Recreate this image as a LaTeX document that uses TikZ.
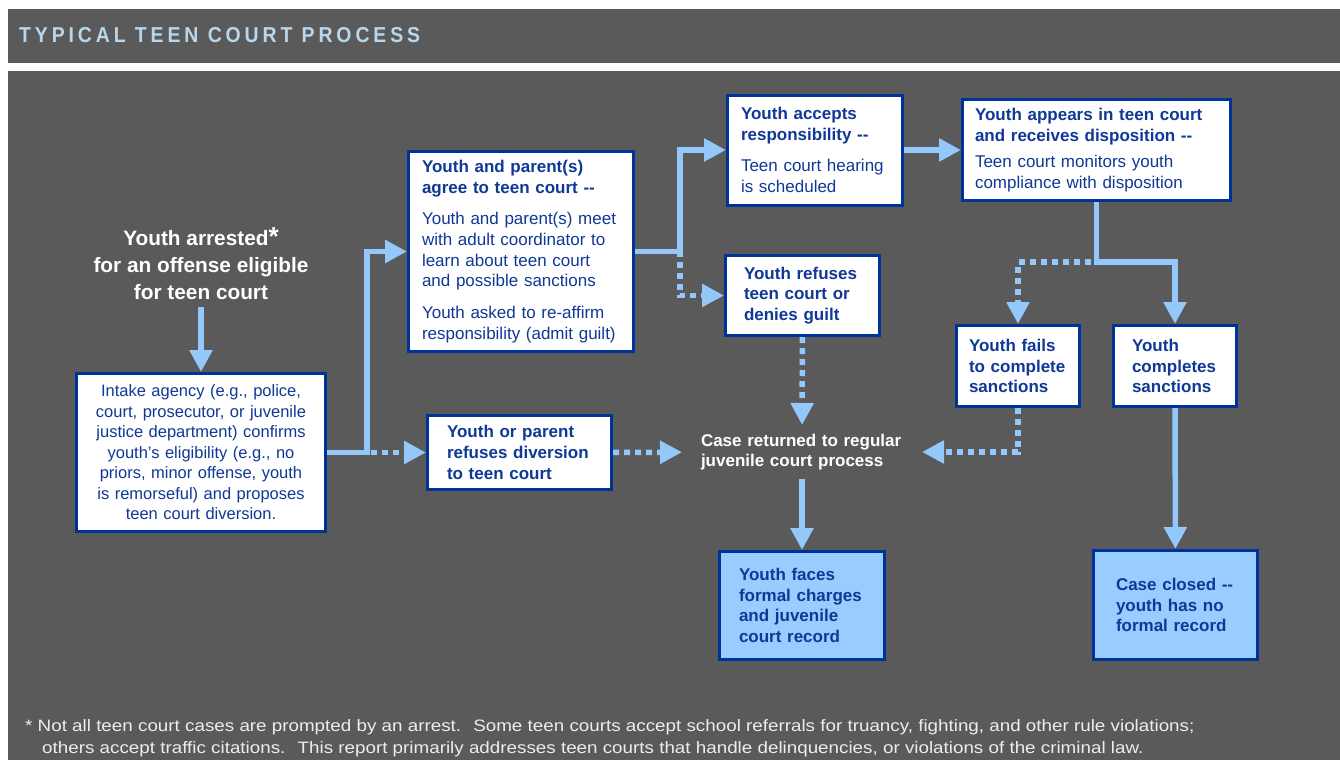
\documentclass[tikz,border=0pt]{standalone}
\usepackage{fontspec}
\setmainfont{Liberation Sans}
\newfontfamily\titlefont[FakeStretch=0.9,LetterSpace=18]{Liberation Sans}
\newfontfamily\footfont[FakeStretch=1.14]{Liberation Sans}
\usetikzlibrary{arrows.meta,positioning}
\definecolor{bggray}{RGB}{90,90,90}
\definecolor{boxblue}{RGB}{0,51,153}
\definecolor{textblue}{RGB}{16,56,150}
\definecolor{arrowblue}{RGB}{148,200,250}
\definecolor{endblue}{RGB}{153,204,255}
\definecolor{titleblue}{RGB}{184,214,236}
\definecolor{footgray}{RGB}{237,237,237}
\begin{document}
\begin{tikzpicture}[x=1pt,y=-1pt,
  flow/.style={draw=arrowblue,line width=5.5pt,-{Triangle[width=22pt,length=22pt]}},
  dotflow/.style={flow,dash pattern=on 6pt off 5pt},
  procbox/.style={draw=boxblue,line width=3pt,fill=white,text=textblue,align=left,inner ysep=0pt,font=\fontsize{17}{20.7}\selectfont},
  endbox/.style={procbox,fill=endblue,font=\fontsize{17}{20.7}\selectfont\bfseries},
  plain text/.style={text=white,inner sep=0pt,outer sep=0pt}]
% background
\fill[white] (0,0) rectangle (1340,760);
\useasboundingbox (0,0) rectangle (1340,760);
\fill[bggray] (8,9) rectangle (1340,63);
\fill[bggray] (8,71) rectangle (1340,760);
\node[anchor=west,inner sep=0pt,text=titleblue,font=\titlefont\bfseries\fontsize{21.6}{26}\selectfont] (title) at (19,35.5) {TYPICAL TEEN COURT PROCESS};
\begin{scope}
\node[plain text,align=center,minimum height=87,font=\fontsize{20.8}{26.7}\selectfont\bfseries] (arrested) at (201,263.5) {Youth arrested{\fontsize{26}{26}\selectfont*}\\for an offense eligible\\for teen court};
\node[procbox,align=center,text width=236,inner xsep=6.5,minimum height=158,font=\fontsize{16.5}{20.5}\selectfont] (intake) at (201,452.5) {Intake agency (e.g., police,\\court, prosecutor, or juvenile\\justice department) confirms\\youth’s eligibility (e.g., no\\priors, minor offense, youth\\is remorseful) and proposes\\teen court diversion.};
\node[procbox,text width=198,inner xsep=13.5,minimum height=200] (agree) at (521,251.5) {\textbf{Youth and parent(s)}\\\textbf{agree to teen court -{}-}\\[11pt]Youth and parent(s) meet\\with adult coordinator to\\learn about teen court\\and possible sanctions\\[11pt]Youth asked to re-affirm\\responsibility (admit guilt)};
\node[procbox,text width=145,inner xsep=19.5,minimum height=74,font=\fontsize{17}{20.7}\selectfont\bfseries] (refdiv) at (519.5,452.5) {Youth or parent\\refuses diversion\\to teen court};
\node[procbox,text width=148,inner xsep=13.5,minimum height=110] (accepts) at (815,150) {\textbf{Youth accepts}\\\textbf{responsibility -{}-}\\[11pt]Teen court hearing\\is scheduled};
\node[procbox,text width=117,inner xsep=18.5,minimum height=80,font=\fontsize{17}{20.7}\selectfont\bfseries] (refuse) at (802.5,295.5) {Youth refuses\\teen court or\\denies guilt};
\node[procbox,text width=243,inner xsep=12.5,minimum height=101] (appears) at (1096.5,150) {\textbf{Youth appears in teen court}\\\textbf{and receives disposition -{}-}\\[6pt]Teen court monitors youth\\compliance with disposition};
\node[procbox,text width=98,inner xsep=12.5,minimum height=81,font=\fontsize{17}{20.7}\selectfont\bfseries] (fails) at (1018,366) {Youth fails\\to complete\\sanctions};
\node[procbox,text width=86,inner xsep=18.5,minimum height=81,font=\fontsize{17}{20.7}\selectfont\bfseries] (completes) at (1175,366) {Youth\\completes\\sanctions};
\node[plain text,align=left,text width=202,inner xsep=19,minimum height=54,font=\fontsize{17}{20.5}\selectfont\bfseries] (case) at (802,452) {Case returned to regular\\juvenile court process};
\node[endbox,text width=126,inner xsep=19.5,minimum height=108] (faces) at (802,605.5) {Youth faces\\formal charges\\and juvenile\\court record};
\node[endbox,text width=119,inner xsep=22.5,minimum height=109] (closed) at (1175.5,605) {Case closed -{}-\\youth has no\\formal record};
\end{scope}
\begin{scope}
\coordinate (jA) at (367,452.5);
\coordinate (jB) at (680,251.5);
\coordinate (jC) at (1096.5,262);
\draw[flow] (arrested) -- (intake);
\draw[dotflow] (intake.east) -- (refdiv.west);
\draw[flow] (intake.east) -- (jA) |- (agree.west);
\draw[dotflow] (agree.east) -- (jB) |- (refuse.west);
\draw[flow] (agree.east) -- (jB) |- (accepts.west);
\draw[flow] (accepts.east) -- (accepts.east -| appears.west);
\draw[dotflow] (appears.south) -- (jC) -| (fails.north);
\draw[flow] (appears.south) -- (jC) -| (completes.north);
\draw[dotflow] (refuse) -- (case);
\draw[dotflow] (refdiv) -- (case);
\draw[dotflow] (fails.south) |- (case.east);
\draw[flow] (case) -- (faces);
\draw[flow] (completes) -- (closed);
\end{scope}
% footnote
\node[anchor=base west,inner sep=0pt,text=footgray,font=\footfont\fontsize{16.5}{22}\selectfont] (foot1) at (25,731) {* Not all teen court cases are prompted by an arrest.~ Some teen courts accept school referrals for truancy, fighting, and other rule violations;};
\node[anchor=base west,inner sep=0pt,text=footgray,font=\footfont\fontsize{16.5}{22}\selectfont] (foot2) at (42,753) {others accept traffic citations.~ This report primarily addresses teen courts that handle delinquencies, or violations of the criminal law.};
\end{tikzpicture}
\end{document}
